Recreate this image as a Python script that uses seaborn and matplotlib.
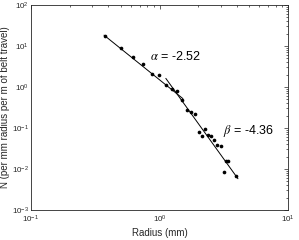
import numpy as np
import pandas as pd
import matplotlib
matplotlib.use("Agg")
import matplotlib.pyplot as plt
import seaborn as sns

# data
radius = [0.379, 0.499, 0.618, 0.748, 0.879, 0.995, 1.124, 1.255, 1.361, 1.491,
          1.643, 1.752, 1.879, 2.018, 2.134, 2.261, 2.406, 2.516, 2.666, 2.787,
          3.021, 3.304, 3.424, 3.182, 3.94]
count = [17.5, 8.79, 5.39, 3.54, 2.05, 1.995, 1.106, 0.884, 0.777, 0.487,
         0.272, 0.247, 0.216, 0.0791, 0.0628, 0.0946, 0.0667, 0.0634, 0.0501, 0.0385,
         0.036, 0.0161, 0.0158, 0.00845, 0.00683]

# power-law fits: N = C * r^exponent
fit_names = ["alpha", "beta"]
fit_exponents = [-2.52, -4.36]
fit_coefs = [1.50, 2.66]
fit_xmin = [0.37, 1.12]
fit_xmax = [1.52, 4.08]
fit_labels = [r"$\alpha$ = -2.52", r"$\beta$ = -4.36"]
label_x = [0.844, 3.12]
label_y = [5.48, 0.0859]

sns.set_style("white")
plt.rcParams["font.family"] = ["Liberation Sans", "DejaVu Sans"]
plt.rcParams["mathtext.fontset"] = "stix"
ink = "#262626"

fig = plt.figure(figsize=(2.99, 2.40), dpi=100)
ax = fig.add_axes([31/299, 1-210/240, 257/299, 205/240])

pts = pd.DataFrame({"radius": radius, "count": count})
sns.scatterplot(data=pts, x="radius", y="count", ax=ax, color="black",
                s=7, linewidth=0, zorder=3)

for i in range(len(fit_names)):
    xs = np.array([fit_xmin[i], fit_xmax[i]])
    line = pd.DataFrame({"x": xs, "y": fit_coefs[i] * xs ** fit_exponents[i]})
    sns.lineplot(data=line, x="x", y="y", ax=ax, color="black", linewidth=0.7)
    ax.text(label_x[i], label_y[i], fit_labels[i], fontsize=9, va="center",
            ha="left", color="black")

ax.set_xscale("log")
ax.set_yscale("log")
ax.set_xlim(0.1, 10)
ax.set_ylim(1e-3, 1e2)
ax.set_xlabel("Radius (mm)", fontsize=7, color=ink)
ax.set_ylabel("N (per mm radius per m of belt travel)", fontsize=7, color=ink)
ax.xaxis.set_label_coords(0.5, -0.09)
ax.yaxis.set_label_coords(-0.08, 0.5)

for sp in ax.spines.values():
    sp.set_visible(True)
    sp.set_color(ink)
    sp.set_linewidth(0.6)
ax.tick_params(which="both", direction="in", top=True, right=True,
               colors=ink, labelsize=5.8, width=0.5)
ax.tick_params(which="major", length=3)
ax.tick_params(axis="y", which="major", pad=1.5)
ax.tick_params(axis="x", which="major", pad=3)
ax.tick_params(which="minor", length=1.5)
ax.yaxis.set_minor_locator(matplotlib.ticker.LogLocator(base=10, subs=np.arange(2, 10), numticks=20))
ax.yaxis.set_minor_formatter(matplotlib.ticker.NullFormatter())
ax.xaxis.set_minor_locator(matplotlib.ticker.LogLocator(base=10, subs=np.arange(2, 10), numticks=20))
ax.xaxis.set_minor_formatter(matplotlib.ticker.NullFormatter())
ax.grid(False)

fig.savefig("out.png", dpi=100)
